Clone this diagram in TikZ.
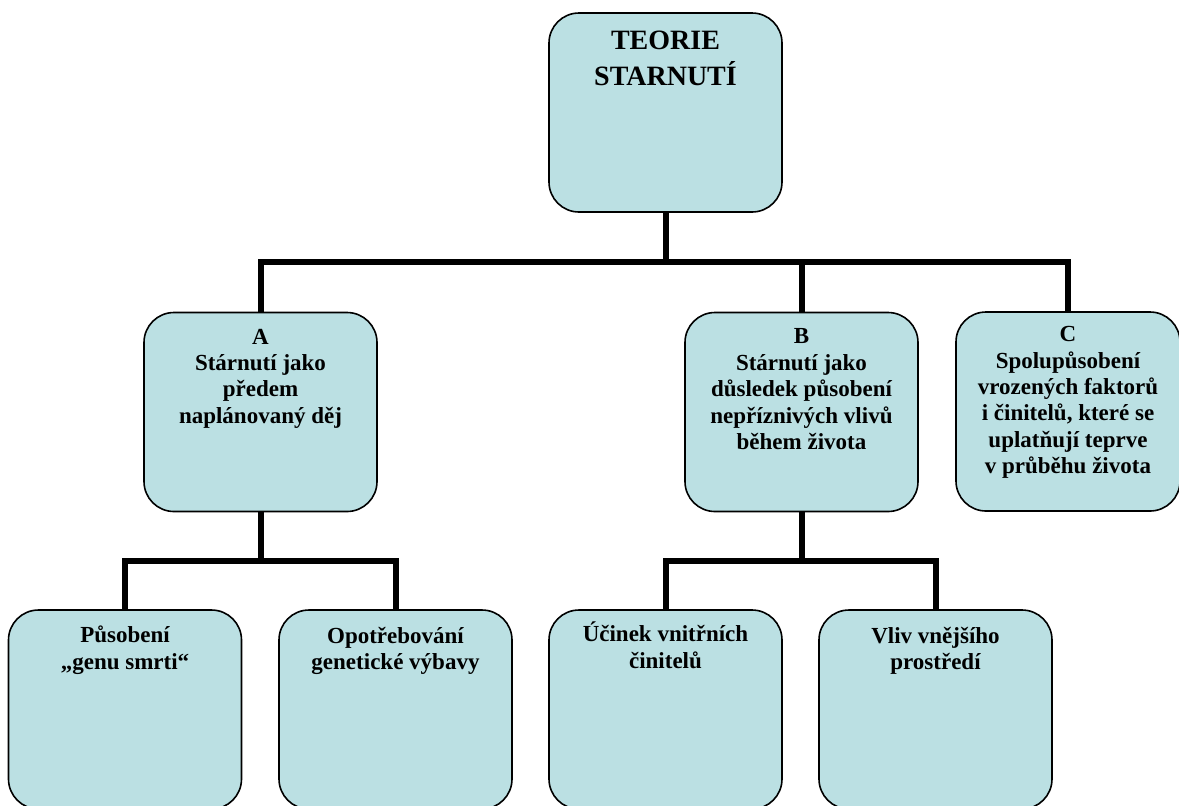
\documentclass[tikz,border=0pt]{standalone}
\usepackage{fontspec}
\setmainfont{Liberation Serif}
\usepackage{tikz}
\definecolor{boxfill}{RGB}{187,224,227}

\begin{document}
\begin{tikzpicture}[x=0.5pt, y=-0.5pt,
    box/.style={draw=black, line width=0.8pt, fill=boxfill, rounded corners=15pt,
      minimum width=116.5pt, minimum height=99.5pt, inner sep=0pt},
    txt/.style={align=center, inner sep=0pt, anchor=north,
      font=\bfseries\fontsize{11.5}{13.2}\selectfont},
    conn/.style={line width=3pt}]
    \path[use as bounding box, clip] (0,0) rectangle (1179,805);

    % boxes
    \node[box] (top) at (665.5,112.5) {};
    \node[box] (A) at (260.5,412) {};
    \node[box] (B) at (801.5,412) {};
    \node[box, minimum width=112pt] (C) at (1068,411.5) {};
    \node[box] (A1) at (125,709.5) {};
    \node[box] (A2) at (395.5,709.5) {};
    \node[box] (B1) at (665.5,709.5) {};
    \node[box] (B2) at (935.5,709.5) {};

    % texts
    \node[txt, font=\bfseries\fontsize{14}{18}\selectfont] (top-t) at ([yshift=-9.2pt]top.north) {TEORIE\\STARNUTÍ};
    \node[txt] (A-t) at ([yshift=-8.4pt]A.north) {A\\Stárnutí jako\\předem\\naplánovaný děj};
    \node[txt] (B-t) at ([yshift=-8.4pt]B.north) {B\\Stárnutí jako\\důsledek působení\\nepříznivých vlivů\\během života};
    \node[txt] (C-t) at ([yshift=-7.4pt]C.north) {C\\Spolupůsobení\\vrozených faktorů\\i činitelů, které se\\uplatňují teprve\\v průběhu života};
    \node[txt] (A1-t) at ([yshift=-8.2pt]A1.north) {Působení\\„genu smrti“};
    \node[txt] (A2-t) at ([yshift=-8.7pt]A2.north) {Opotřebování\\genetické výbavy};
    \node[txt] (B1-t) at ([yshift=-6.2pt]B1.north) {Účinek vnitřních\\činitelů};
    \node[txt] (B2-t) at ([yshift=-8.7pt]B2.north) {Vliv vnějšího\\prostředí};

    % connectors
    \coordinate (bus) at (0,262);
    \coordinate (busA) at (0,561);
    \coordinate (busB) at (0,561);
    \draw[conn] (top.south) -- (top.south |- bus);
    \draw[conn] (A.north) |- (C.north |- bus) -- (C.north);
    \draw[conn] (B.north) -- (B.north |- bus);
    \draw[conn] (A.south) -- (A.south |- busA);
    \draw[conn] (A1.north) |- (A2.north |- busA) -- (A2.north);
    \draw[conn] (B.south) -- (B.south |- busB);
    \draw[conn] (B1.north) |- (B2.north |- busB) -- (B2.north);
\end{tikzpicture}
\end{document}
